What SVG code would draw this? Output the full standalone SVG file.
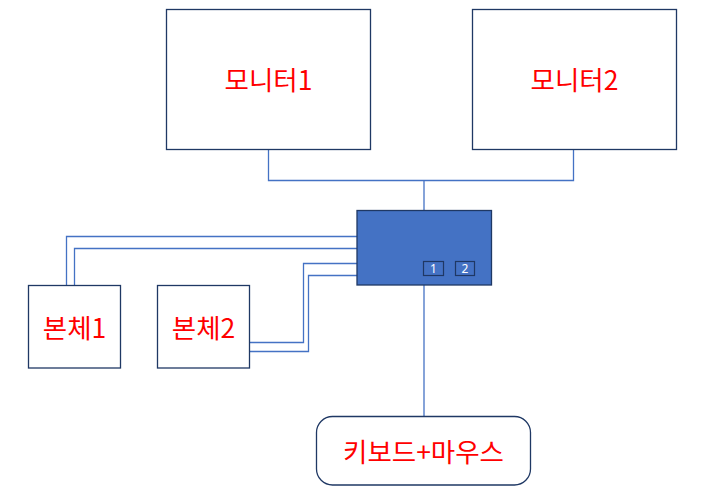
<svg xmlns="http://www.w3.org/2000/svg" width="708" height="494" viewBox="0 0 708 494">
<style>
.box{fill:#fff;stroke:#1F3864;stroke-width:1.3}
.lbl{font-family:"Noto Sans CJK KR","Noto Sans",sans-serif;font-size:26.5px;fill:#FF0000;text-anchor:middle;dominant-baseline:central}
.wire{fill:none;stroke:#4472C4;stroke-width:1.3}
.port{fill:#4472C4;stroke:#1F3864;stroke-width:1.2}
.ptxt{font-family:"Noto Sans","Liberation Sans",sans-serif;font-size:12px;fill:#fff;text-anchor:middle;dominant-baseline:central}
</style>
<rect width="708" height="494" fill="#fff"/>
<g id="connectors">
<polyline class="wire" points="268.5,149 268.5,180.5 573.5,180.5 573.5,149"/>
<line class="wire" x1="424" y1="180.5" x2="424" y2="210"/>
<polyline class="wire" points="357,236.5 66.5,236.5 66.5,285"/>
<polyline class="wire" points="357,248.5 74.5,248.5 74.5,285"/>
<polyline class="wire" points="357,263.5 303.5,263.5 303.5,342.5 250,342.5"/>
<polyline class="wire" points="357,275.5 308.5,275.5 308.5,351.5 250,351.5"/>
<line class="wire" x1="424" y1="285" x2="424" y2="416"/>
</g>
<g id="monitor1"><rect class="box" x="166.5" y="9.5" width="204" height="140"/><text class="lbl" x="268.5" y="78">모니터1</text></g>
<g id="monitor2"><rect class="box" x="472.5" y="9.5" width="204" height="140"/><text class="lbl" x="574.5" y="78">모니터2</text></g>
<g id="switch"><rect x="357" y="210.5" width="134.5" height="74.5" fill="#4472C4" stroke="#1F3864" stroke-width="1.3"/>
<rect class="port" x="423.5" y="261.5" width="20" height="14"/><text class="ptxt" x="433.5" y="268.5">1</text>
<rect class="port" x="455.5" y="261.5" width="19" height="14"/><text class="ptxt" x="465" y="268.5">2</text></g>
<g id="body1"><rect class="box" x="28.5" y="285.5" width="92" height="82.5"/><text class="lbl" x="74.5" y="326">본체1</text></g>
<g id="body2"><rect class="box" x="157.5" y="285.5" width="92" height="82.5"/><text class="lbl" x="203.5" y="326">본체2</text></g>
<g id="keyboard"><rect class="box" x="316.5" y="416.5" width="214" height="68.5" rx="16"/><text class="lbl" x="423.5" y="450">키보드+마우스</text></g>
</svg>
